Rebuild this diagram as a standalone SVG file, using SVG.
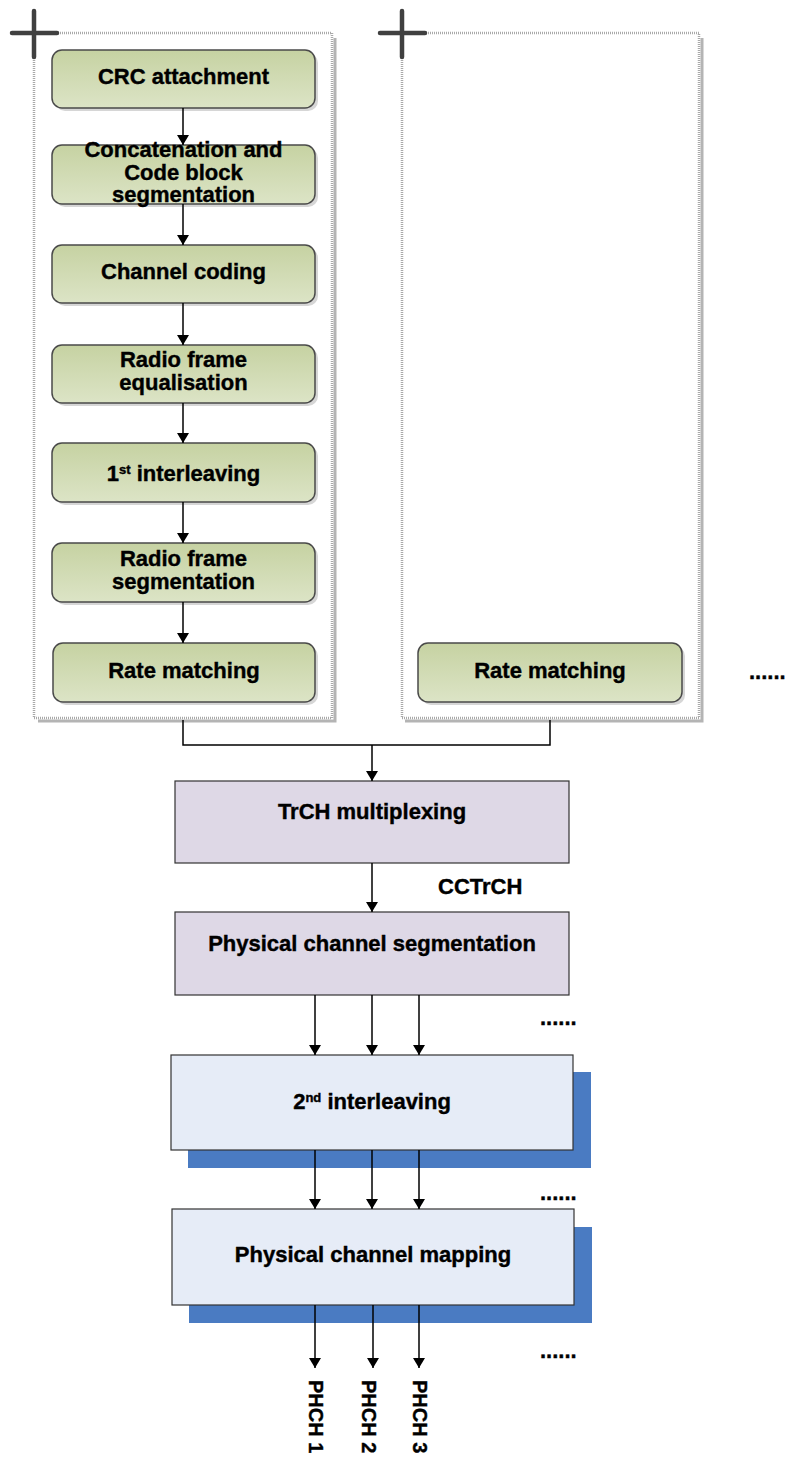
<svg xmlns="http://www.w3.org/2000/svg" width="785" height="1463" viewBox="0 0 785 1463">
  <defs>
    <linearGradient id="greenFill" x1="0" y1="0" x2="0" y2="1">
      <stop offset="0" stop-color="#C6D2A2"/>
      <stop offset="1" stop-color="#DCE4C6"/>
    </linearGradient>
    <marker id="arrow" viewBox="0 0 10 12" refX="10" refY="6" markerWidth="10" markerHeight="12" markerUnits="userSpaceOnUse" orient="auto">
      <path d="M0,0 L10,6 L0,12 Z" fill="#000"/>
    </marker>
    <style>
      .lbl { font-family: "Liberation Sans", Arial, sans-serif; font-weight: bold; font-size: 22px; fill: #000; stroke: #000; stroke-width: 0.4; }
      .sup { font-size: 13px; }
      .step { fill: url(#greenFill); stroke: #4A4A4A; stroke-width: 1.5; }
      .stepShadow { fill: #D6D6D6; }
      .frame { fill: #FFFFFF; stroke: #A9A9A9; stroke-width: 2.5; stroke-dasharray: 1 1; }
      .frameShadow { fill: none; stroke: #B4B4B4; stroke-width: 3; }
      .cross { stroke: #404040; stroke-width: 4.5; stroke-linecap: round; }
      .mux { fill: #DED8E6; stroke: #333; stroke-width: 1.2; }
      .phy { fill: #E6ECF7; stroke: #333; stroke-width: 1.2; }
      .phyShadow { fill: #4A7BC2; }
      .wire { fill: none; stroke: #000; stroke-width: 1.5; }
    </style>
  </defs>

  <!-- transport channel frames -->
  <g id="trch1-frame">
    <path class="frameShadow" d="M335,38 V721 H38"/>
    <rect class="frame" x="34" y="33" width="298" height="685"/>
    <line class="cross" x1="12" y1="33" x2="57" y2="33"/>
    <line class="cross" x1="34" y1="11" x2="34" y2="57"/>
  </g>
  <g id="trch2-frame">
    <path class="frameShadow" d="M702,38 V721 H405"/>
    <rect class="frame" x="402" y="33" width="297" height="685"/>
    <line class="cross" x1="380" y1="33" x2="425" y2="33"/>
    <line class="cross" x1="402" y1="11" x2="402" y2="57"/>
  </g>

  <!-- processing steps of the first transport channel -->
  <g id="crc">
    <rect class="stepShadow" x="55" y="53" width="263" height="58" rx="10"/>
    <rect class="step" x="52" y="50" width="263" height="58" rx="10"/>
    <text class="lbl" x="183.5" y="84" text-anchor="middle">CRC attachment</text>
  </g>
  <g id="concat">
    <rect class="stepShadow" x="55" y="148" width="263" height="59" rx="10"/>
    <rect class="step" x="52" y="145" width="263" height="59" rx="10"/>
    <text class="lbl" x="183.5" y="157" text-anchor="middle">Concatenation and</text>
    <text class="lbl" x="183.5" y="180" text-anchor="middle">Code block</text>
    <text class="lbl" x="183.5" y="202" text-anchor="middle">segmentation</text>
  </g>
  <g id="coding">
    <rect class="stepShadow" x="55" y="248" width="263" height="58" rx="10"/>
    <rect class="step" x="52" y="245" width="263" height="58" rx="10"/>
    <text class="lbl" x="183.5" y="279" text-anchor="middle">Channel coding</text>
  </g>
  <g id="equalisation">
    <rect class="stepShadow" x="55" y="348" width="263" height="58" rx="10"/>
    <rect class="step" x="52" y="345" width="263" height="58" rx="10"/>
    <text class="lbl" x="183.5" y="367" text-anchor="middle">Radio frame</text>
    <text class="lbl" x="183.5" y="390" text-anchor="middle">equalisation</text>
  </g>
  <g id="interleave1">
    <rect class="stepShadow" x="55" y="446" width="263" height="59" rx="10"/>
    <rect class="step" x="52" y="443" width="263" height="59" rx="10"/>
    <text class="lbl" x="183.5" y="481" text-anchor="middle">1<tspan class="sup" dy="-7">st</tspan><tspan dy="7"> interleaving</tspan></text>
  </g>
  <g id="frame-seg">
    <rect class="stepShadow" x="55" y="546" width="263" height="59" rx="10"/>
    <rect class="step" x="52" y="543" width="263" height="59" rx="10"/>
    <text class="lbl" x="183.5" y="566" text-anchor="middle">Radio frame</text>
    <text class="lbl" x="183.5" y="589" text-anchor="middle">segmentation</text>
  </g>
  <g id="rate1">
    <rect class="stepShadow" x="56" y="646" width="262" height="59" rx="10"/>
    <rect class="step" x="53" y="643" width="262" height="59" rx="10"/>
    <text class="lbl" x="184" y="678" text-anchor="middle">Rate matching</text>
  </g>

  <!-- second transport channel -->
  <g id="rate2">
    <rect class="stepShadow" x="421" y="646" width="264" height="59" rx="10"/>
    <rect class="step" x="418" y="643" width="264" height="59" rx="10"/>
    <text class="lbl" x="550" y="678" text-anchor="middle">Rate matching</text>
  </g>
  <text class="lbl" x="749" y="679">......</text>

  <!-- multiplexing and physical channel stages -->
  <g id="trch-mux">
    <rect class="mux" x="175" y="781" width="394" height="82"/>
    <text class="lbl" x="372" y="819" text-anchor="middle">TrCH multiplexing</text>
  </g>
  <text class="lbl" x="438" y="894">CCTrCH</text>
  <g id="phch-seg">
    <rect class="mux" x="175" y="912" width="394" height="83"/>
    <text class="lbl" x="372" y="951" text-anchor="middle">Physical channel segmentation</text>
  </g>
  <text class="lbl" x="540" y="1025">......</text>

  <g id="interleave2">
    <rect class="phyShadow" x="188" y="1072" width="403" height="96"/>
    <rect class="phy" x="171" y="1055" width="402" height="95"/>
    <text class="lbl" x="372" y="1109" text-anchor="middle">2<tspan class="sup" dy="-7">nd</tspan><tspan dy="7"> interleaving</tspan></text>
  </g>
  <text class="lbl" x="540" y="1200">......</text>

  <g id="phch-map">
    <rect class="phyShadow" x="189" y="1227" width="403" height="96"/>
    <rect class="phy" x="172" y="1209" width="402" height="96"/>
    <text class="lbl" x="373" y="1262" text-anchor="middle">Physical channel mapping</text>
  </g>
  <text class="lbl" x="540" y="1358">......</text>

  <!-- physical channel outputs -->
  <g id="phch-labels">
    <text class="lbl" style="font-size:20px" transform="translate(309,1380) rotate(90)">PHCH 1</text>
    <text class="lbl" style="font-size:20px" transform="translate(362,1380) rotate(90)">PHCH 2</text>
    <text class="lbl" style="font-size:20px" transform="translate(413,1380) rotate(90)">PHCH 3</text>
  </g>

  <!-- connectors -->
  <g id="connectors">
    <line class="wire" x1="183" y1="108" x2="183" y2="145" marker-end="url(#arrow)"/>
    <line class="wire" x1="183" y1="204" x2="183" y2="245" marker-end="url(#arrow)"/>
    <line class="wire" x1="183" y1="303" x2="183" y2="345" marker-end="url(#arrow)"/>
    <line class="wire" x1="183" y1="403" x2="183" y2="443" marker-end="url(#arrow)"/>
    <line class="wire" x1="183" y1="502" x2="183" y2="543" marker-end="url(#arrow)"/>
    <line class="wire" x1="183" y1="602" x2="183" y2="643" marker-end="url(#arrow)"/>

    <path class="wire" d="M183,720 V745 H550 V720"/>
    <line class="wire" x1="372" y1="745" x2="372" y2="781" marker-end="url(#arrow)"/>
    <line class="wire" x1="372" y1="863" x2="372" y2="912" marker-end="url(#arrow)"/>

    <line class="wire" x1="315" y1="995" x2="315" y2="1055" marker-end="url(#arrow)"/>
    <line class="wire" x1="372" y1="995" x2="372" y2="1055" marker-end="url(#arrow)"/>
    <line class="wire" x1="419" y1="995" x2="419" y2="1055" marker-end="url(#arrow)"/>

    <line class="wire" x1="315" y1="1150" x2="315" y2="1209" marker-end="url(#arrow)"/>
    <line class="wire" x1="372" y1="1150" x2="372" y2="1209" marker-end="url(#arrow)"/>
    <line class="wire" x1="419" y1="1150" x2="419" y2="1209" marker-end="url(#arrow)"/>

    <line class="wire" x1="315" y1="1305" x2="315" y2="1368" marker-end="url(#arrow)"/>
    <line class="wire" x1="373" y1="1305" x2="373" y2="1368" marker-end="url(#arrow)"/>
    <line class="wire" x1="419" y1="1305" x2="419" y2="1368" marker-end="url(#arrow)"/>
  </g>
</svg>
